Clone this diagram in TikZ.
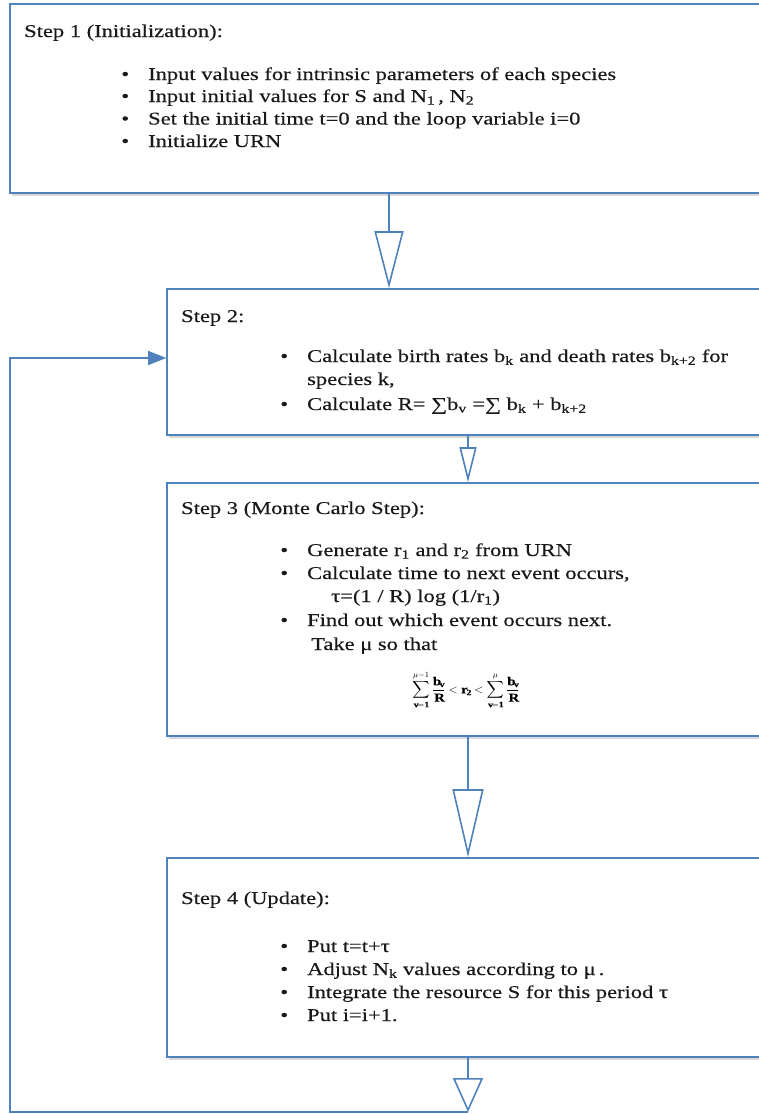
\documentclass[tikz,border=0pt]{standalone}
\usepackage{amsmath}
\usepackage{fontspec}
\setmainfont{Liberation Serif}[FakeStretch=1.25,FakeBold=0.3]
\usetikzlibrary{arrows.meta,shadows,calc}
\definecolor{lineblue}{RGB}{79,129,189}
\newcommand{\bul}{\llap{\textbullet\hspace{19pt}}}
\begin{document}
\begin{tikzpicture}[x=1pt,y=-1pt,
  boxst/.style={draw=lineblue, line width=1.6pt, fill=white, rectangle, inner sep=0pt,
    drop shadow={shadow xshift=2pt,shadow yshift=-3pt,opacity=0.22,fill=black!70}},
  txt/.style={anchor=base west, inner sep=0pt, text=black!90, font=\fontsize{18}{24}\selectfont},
  conn/.style={draw=lineblue, line width=1.6pt}
]
\useasboundingbox (0,0) rectangle (759,1114);

% boxes
\node[boxst, minimum width=758pt, minimum height=189pt] (s1) at (389,98.5) {};
\node[boxst, minimum width=602pt, minimum height=146pt] (s2) at (468,362) {};
\node[boxst, minimum width=602pt, minimum height=253pt] (s3) at (468,609.5) {};
\node[boxst, minimum width=602pt, minimum height=199pt] (s4) at (468,957.5) {};

% step 1 text
\node[txt] (t1) at (24,37) {Step 1 (Initialization):};
\node[txt] (t1a) at (148,80) {\bul Input values for intrinsic parameters of each species};
\node[txt] (t1b) at (148,102) {\bul Input initial values for S and N\textsubscript{1}\,, N\textsubscript{2}};
\node[txt] (t1c) at (148,124.5) {\bul Set the initial time t=0 and the loop variable i=0};
\node[txt] (t1d) at (148,147) {\bul Initialize URN};

% step 2 text
\node[txt] (t2) at (181,322) {Step 2:};
\node[txt] (t2a) at (307,362) {\bul Calculate birth rates b\textsubscript{k} and death rates b\textsubscript{k+2} for};
\node[txt] (t2b) at (307,385) {species k,};
\node[txt] (t2c) at (307,410) {\bul Calculate R= ∑b\textsubscript{v} =∑ b\textsubscript{k} + b\textsubscript{k+2}};

% step 3 text
\node[txt] (t3) at (181,514) {Step 3 (Monte Carlo Step):};
\node[txt] (t3a) at (307,556) {\bul Generate r\textsubscript{1} and r\textsubscript{2} from URN};
\node[txt] (t3b) at (307,579) {\bul Calculate time to next event occurs,};
\node[txt] (t3c) at (331,602) {τ=(1 / R) log (1/r\textsubscript{1})};
\node[txt] (t3d) at (307,626) {\bul Find out which event occurs next.};
\node[txt] (t3e) at (311,650) {Take μ so that};
\node[inner sep=0pt, font=\fontsize{12}{14}\selectfont] (f3) at (466,690)
  {$\displaystyle\sum_{\mathbf{v=1}}^{\mu-1}\frac{\mathbf{b}_{\mathbf{v}}}{\mathbf{R}}<\mathbf{r}_{\mathbf{2}}<\sum_{\mathbf{v=1}}^{\mu}\frac{\mathbf{b}_{\mathbf{v}}}{\mathbf{R}}$};

% step 4 text
\node[txt] (t4) at (181,904) {Step 4 (Update):};
\node[txt] (t4a) at (307,952) {\bul Put t=t+τ};
\node[txt] (t4b) at (307,975) {\bul Adjust N\textsubscript{k} values according to μ\,.};
\node[txt] (t4c) at (307,998) {\bul Integrate the resource S for this period τ};
\node[txt] (t4d) at (307,1021) {\bul Put i=i+1.};

% connectors
\coordinate (loopc) at (468,1112);
\coordinate (lb) at (10,1112);
\coordinate (lt) at (10,358);
\draw[conn, -{Triangle[open,length=57pt,width=29pt]}] (s1.south) -- (s1.south |- s2.north);
\draw[conn, -{Triangle[open,length=35pt,width=17pt]}] (s2.south) -- (s3.north);
\draw[conn, -{Triangle[open,length=68pt,width=31pt]}] (s3.south) -- (s4.north);
\draw[conn, -{Triangle[open,length=34pt,width=30pt]}] (s4.south) -- (loopc);
\draw[conn, -{Triangle[length=18pt,width=14pt]}, line join=miter] (loopc) -- (lb) -- (lt) -- (lt -| s2.west);
\end{tikzpicture}
\end{document}
